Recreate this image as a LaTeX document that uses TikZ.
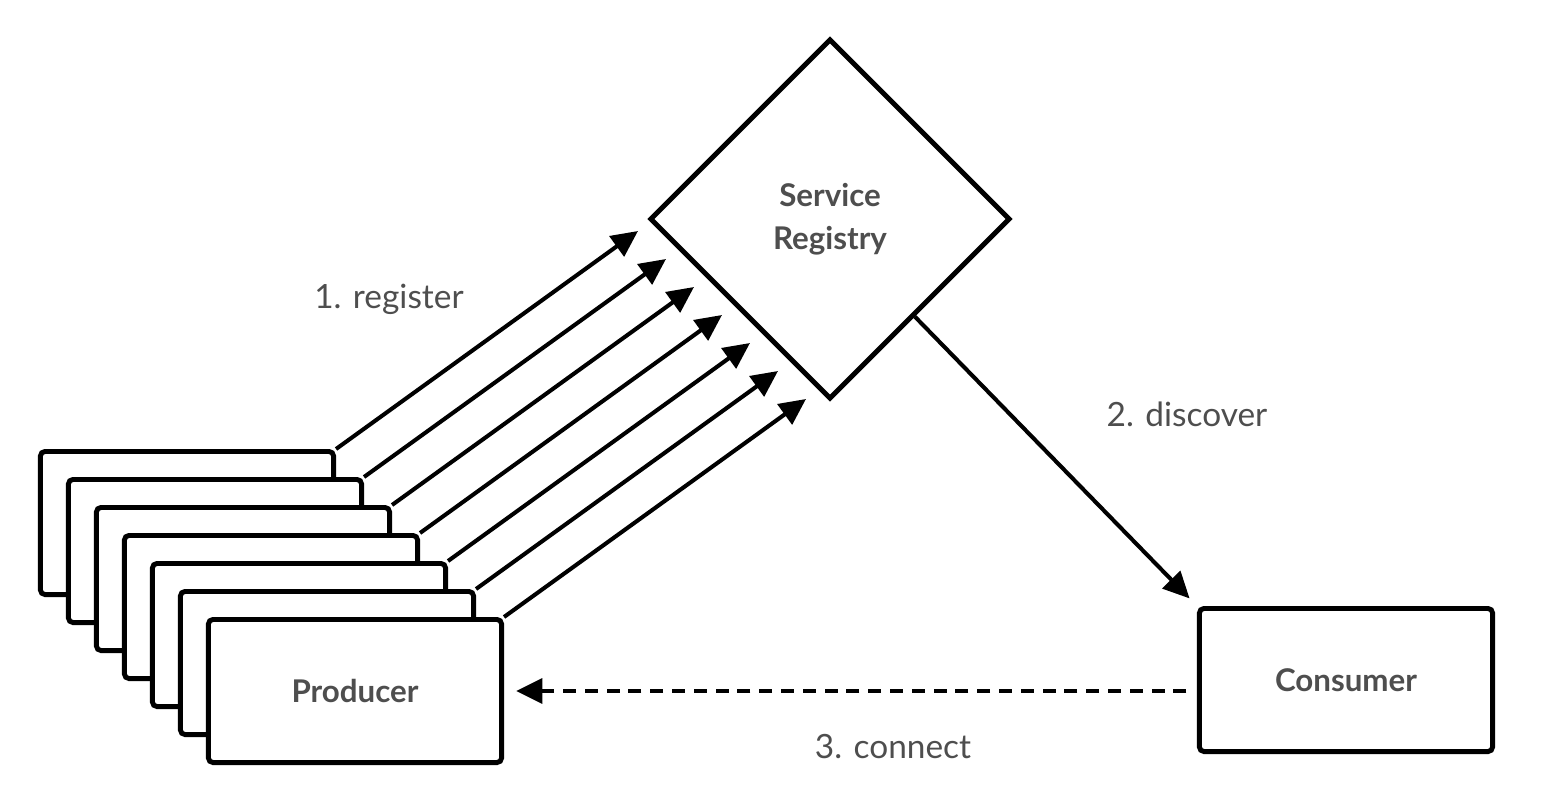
\documentclass[tikz,border=0pt]{standalone}
\usepackage{fontspec}
\setmainfont{Lato}
\usepackage{tikz}
\usetikzlibrary{arrows.meta,shapes.geometric,positioning}
\definecolor{txtgray}{RGB}{78,78,78}

\begin{document}
\begin{tikzpicture}[x=0.01cm,y=-0.01cm]
  \useasboundingbox (0,0) rectangle (1542,800);
  \tikzstyle{every node}=[text=txtgray, font=\fontsize{8.9}{12.2}\selectfont\bfseries]
  \tikzstyle{box}=[draw, line width=1.4pt, rounded corners=1.3pt, fill=white,
    minimum width=2.93cm, minimum height=1.43cm]

  % Specification of nodes (position, etc.)
  \node[box] (Prod1) at (187,523) {};
  \node[box] (Prod2) at (215,551) {};
  \node[box] (Prod3) at (243,579) {};
  \node[box] (Prod4) at (271,607) {};
  \node[box] (Prod5) at (299,635) {};
  \node[box] (Prod6) at (327,663) {};
  \node[box] (Prod7) at (355,691) {Producer};
  \node[box] (Consumer) at (1346,680) {Consumer};
  \node[draw, diamond, line width=1.4pt, minimum width=3.6cm, minimum height=3.6cm,
    align=center] (Registry) at (830,219) {Service\\Registry};

  % arrow tips in front of the registry
  \coordinate (Reg1) at (638,231);
  \coordinate (Reg2) at (666,259);
  \coordinate (Reg3) at (694,287);
  \coordinate (Reg4) at (722,315);
  \coordinate (Reg5) at (750,343);
  \coordinate (Reg6) at (778,371);
  \coordinate (Reg7) at (806,399);

  \begin{scope}[-{Triangle[length=7.5pt,width=7pt]}, line width=1.15pt]
    \tikzstyle{every node}=[text=txtgray, font=\fontsize{9.5}{11}\selectfont]
    \draw (Prod1.north east) -- (Reg1);
    \draw (Prod2.north east) -- (Reg2);
    \draw (Prod3.north east) -- (Reg3);
    \draw (Prod4.north east) -- (Reg4);
    \draw (Prod5.north east) -- (Reg5);
    \draw (Prod6.north east) -- (Reg6);
    \draw (Prod7.north east) -- (Reg7);
    \draw[shorten >=3pt] (Registry.-49) -- (Consumer.north west);
    \draw[line width=1.3pt, dash pattern=on 3.7pt off 2.5pt, shorten <=3pt, shorten >=3.4pt]
      (Consumer.west |- Prod7.east) -- (Prod7.east);
    \node (register) at (389,299) {1. register};
    \node (discover) at (1187,414) {2. discover};
    \node (connect) at (893,747) {3. connect};
  \end{scope}
\end{tikzpicture}
\end{document}
